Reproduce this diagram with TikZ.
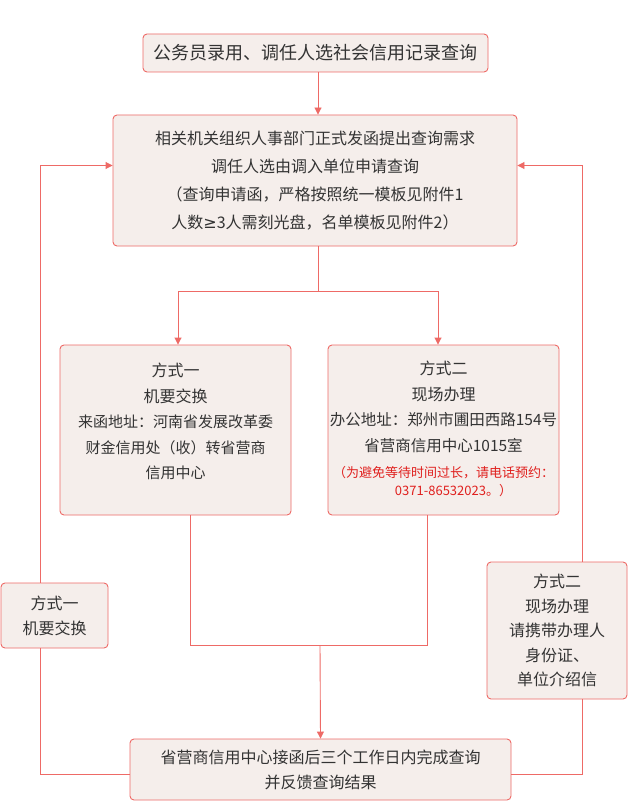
\documentclass[tikz,border=0pt]{standalone}
\usepackage{fontspec}
\setmainfont{Noto Sans CJK SC}
\newfontfamily\symfont{DejaVu Sans}
\usetikzlibrary{arrows.meta}
\definecolor{border}{HTML}{EE6A66}
\definecolor{boxfill}{HTML}{F5EEEB}
\definecolor{ink}{HTML}{333333}
\definecolor{alert}{HTML}{E0201E}
\tikzset{
  box/.style={draw=border, fill=boxfill, rounded corners=4pt, line width=0.9pt,
    text=ink, align=center, inner sep=0pt},
  txt/.style={text=ink, align=center, inner sep=0pt},
  link/.style={draw=border, line width=0.9pt},
  arr/.style={-{Triangle[length=7pt,width=7pt]}, draw=border, line width=0.9pt}
}
\newcommand{\FS}[2]{\fontsize{#1}{#2}\selectfont}
\begin{document}
\begin{tikzpicture}[x=1pt,y=-1pt]
  \useasboundingbox (0,0) rectangle (630,805);
  \fill[white] (0,0) rectangle (630,805);
  % boxes
  \node[box, minimum width=345pt, minimum height=38pt, font=\FS{18}{24}] (query) at (315.5,53)
    {公务员录用、调任人选社会信用记录查询};
  \node[box, minimum width=404pt, minimum height=131pt, font=\FS{16}{28}] (request) at (315,180.5)
    {相关机关组织人事部门正式发函提出查询需求\\调任人选由调入单位申请查询\\（查询申请函，严格按照统一模板见附件1\\人数{\symfont ≥}3人需刻光盘，名单模板见附件2）};
  \node[box, minimum width=231pt, minimum height=170pt] (mail) at (175.5,430) {};
  \node[box, minimum width=231pt, minimum height=170pt] (visit) at (443.5,430) {};
  \node[box, minimum width=107pt, minimum height=65pt, font=\FS{16}{25}] (mailWay) at (54.5,615.5)
    {方式一\\机要交换};
  \node[box, minimum width=140pt, minimum height=137pt, font=\FS{16}{24.5}] (visitWay) at (557,630.5)
    {方式二\\现场办理\\请携带办理人\\身份证、\\单位介绍信};
  \node[box, minimum width=381pt, minimum height=61pt, font=\FS{16}{25}] (result) at (320.5,769.5)
    {省营商信用中心接函后三个工作日内完成查询\\并反馈查询结果};
  % texts in the two middle boxes
  \node[txt, font=\FS{16}{26}] (mailHead) at (175.5,383) {方式一\\机要交换};
  \node[txt, font=\FS{15}{25.5}] (mailAddr) at (175.5,447.5)
    {来函地址：河南省发展改革委\\财金信用处（收）转省营商\\信用中心};
  \node[txt, font=\FS{16}{26}] (visitHead) at (443.5,381) {方式二\\现场办理};
  \node[txt, font=\FS{15.5}{26}] (visitAddr) at (443.5,433)
    {办公地址：郑州市圃田西路154号\\省营商信用中心1015室};
  \node[txt, text=alert, font=\FS{13}{18}] (visitNote) at (443.5,482)
    {（为避免等待时间过长，请电话预约：\\\hspace{20pt}0371-86532023。）};
  % connectors
  \coordinate (split) at (318,291);
  \coordinate (merge) at (320,645);
  \coordinate (leftTop) at (40,165);
  \coordinate (rightTop) at (582,165);
  \draw[arr] (query.south -| split) -- (request.north -| split);
  \draw[link] (request.south -| split) -- (split);
  \draw[arr] (split) -| ([xshift=2.5pt]mail.north);
  \draw[arr] (split) -| ([xshift=-5.5pt]visit.north);
  \draw[link] ([xshift=14.5pt]mail.south) |- (merge);
  \draw[link] ([xshift=-16.5pt]visit.south) |- (merge);
  \draw[arr] (merge) -- (result.north);
  \draw[link] ([yshift=-5pt]result.west) -| (mailWay.south -| leftTop);
  \draw[arr] (mailWay.north -| leftTop) |- ([yshift=15pt]request.west);
  \draw[link] ([yshift=-5pt]result.east) -| (visitWay.south -| rightTop);
  \draw[arr] (visitWay.north -| rightTop) |- ([yshift=15pt]request.east);
\end{tikzpicture}
\end{document}
